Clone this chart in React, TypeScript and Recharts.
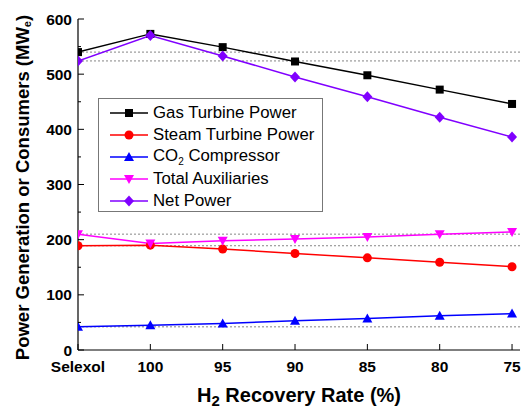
import React from 'react';
import { LineChart, Line, XAxis, YAxis, ReferenceLine } from 'recharts';

// values (MW_e)
const categories = ['Selexol', '100', '95', '90', '85', '80', '75'];
const gasTurbine = [540, 573, 549, 523, 498, 472, 446];
const steamTurbine = [189, 190, 183, 175, 167, 159, 151];
const co2Compressor = [42, 45, 48, 53, 57, 62, 66];
const totalAux = [210, 193, 198, 201, 205, 210, 214];
const netPower = [524, 570, 533, 495, 459, 422, 386];
const yTicks = [0, 50, 100, 150, 200, 250, 300, 350, 400, 450, 500, 550, 600];

const FONT = '"Liberation Sans", Arial, Helvetica, sans-serif';

const data = categories.map((c, i) => ({
  idx: i,
  name: c,
  gas: gasTurbine[i],
  steam: steamTurbine[i],
  co2: co2Compressor[i],
  aux: totalAux[i],
  net: netPower[i],
}));

type Shape = 'square' | 'circle' | 'up' | 'down' | 'diamond';

const Marker = ({ cx, cy, shape, color }: { cx: number; cy: number; shape: Shape; color: string }) => {
  switch (shape) {
    case 'square':
      return <rect x={cx - 4} y={cy - 4} width={8} height={8} fill={color} />;
    case 'circle':
      return <circle cx={cx} cy={cy} r={4.5} fill={color} />;
    case 'up':
      return <polygon points={`${cx},${cy - 5} ${cx + 5},${cy + 4} ${cx - 5},${cy + 4}`} fill={color} />;
    case 'down':
      return <polygon points={`${cx},${cy + 5} ${cx + 5},${cy - 4} ${cx - 5},${cy - 4}`} fill={color} />;
    default:
      return <polygon points={`${cx},${cy - 5.5} ${cx + 5},${cy} ${cx},${cy + 5.5} ${cx - 5},${cy}`} fill={color} />;
  }
};

const series: { key: string; name: string; color: string; shape: Shape }[] = [
  { key: 'gas', name: 'Gas Turbine Power', color: '#000000', shape: 'square' },
  { key: 'steam', name: 'Steam Turbine Power', color: '#ff0000', shape: 'circle' },
  { key: 'co2', name: 'CO2 Compressor', color: '#0000ff', shape: 'up' },
  { key: 'aux', name: 'Total Auxiliaries', color: '#ff00ff', shape: 'down' },
  { key: 'net', name: 'Net Power', color: '#8000ff', shape: 'diamond' },
];

const YTick = (props: any) => {
  const { x, y, payload } = props;
  const major = payload.value % 100 === 0;
  return (
    <g>
      <line x1={x} x2={x + (major ? 6 : 3)} y1={y} y2={y} stroke="#000" strokeWidth={1} />
      {major && (
        <text x={x - 6} y={y} textAnchor="end" dominantBaseline="central"
          fontFamily={FONT} fontWeight="bold" fontSize={15.5} fill="#000">
          {payload.value}
        </text>
      )}
    </g>
  );
};

const XTick = (props: any) => {
  const { x, y, payload } = props;
  return (
    <g>
      <line x1={x} x2={x} y1={y} y2={y - 6} stroke="#000" strokeWidth={1} />
      <text x={x} y={y + 16} textAnchor="middle" dominantBaseline="central"
        fontFamily={FONT} fontWeight="bold" fontSize={15.5} fill="#000">
        {categories[payload.value]}
      </text>
    </g>
  );
};

const LegendBox = () => (
  <div style={{
    position: 'absolute', left: 98, top: 98, width: 225, height: 114, boxSizing: 'border-box',
    border: '1px solid #777', background: '#fff', paddingTop: 3, fontFamily: FONT, fontSize: 16.8,
  }}>
    {series.map(s => (
      <div key={s.key} style={{ display: 'flex', alignItems: 'center', height: 22 }}>
        <svg width={54} height={22} style={{ flex: 'none' }}>
          <line x1={11} x2={49} y1={11} y2={11} stroke={s.color} strokeWidth={1.5} />
          <Marker cx={30} cy={11} shape={s.shape} color={s.color} />
        </svg>
        <span style={{ whiteSpace: 'nowrap' }}>
          {s.key === 'co2' ? <>CO<sub style={{ fontSize: 10 }}>2</sub> Compressor</> : s.name}
        </span>
      </div>
    ))}
  </div>
);

const YLabel = (props: any) => {
  const { viewBox } = props;
  const cx = viewBox.x + 22;
  const cy = viewBox.y + viewBox.height / 2 + 3;
  return (
    <text x={cx} y={cy} transform={`rotate(-90, ${cx}, ${cy})`} textAnchor="middle"
      dominantBaseline="central" fontFamily={FONT} fontWeight="bold" fontSize={18.5} fill="#000">
      Power Generation or Consumers (MW<tspan fontSize={11} dy={5}>e</tspan><tspan dy={-5}>)</tspan>
    </text>
  );
};

const XLabel = (props: any) => {
  const { viewBox } = props;
  const cx = viewBox.x + viewBox.width / 2;
  return (
    <text x={cx} y={viewBox.y + 52} textAnchor="middle" fontFamily={FONT}
      fontWeight="bold" fontSize={20} fill="#000">
      H<tspan fontSize={15} dy={4}>2</tspan><tspan dy={-4}> Recovery Rate (%)</tspan>
    </text>
  );
};

export default function App() {
  return (
    <div style={{ position: 'absolute', left: 0, top: 0, width: 523, height: 412, background: '#fff' }}>
      <LineChart width={523} height={412} data={data} margin={{ top: 19, right: 3, bottom: 0, left: 0 }}>
        <XAxis dataKey="idx" type="number" domain={[0, 6.11]} ticks={[0, 1, 2, 3, 4, 5, 6]}
          allowDataOverflow height={62} tickSize={0} tickMargin={0} tickLine={false}
          axisLine={{ stroke: '#000', strokeWidth: 1.2 }} tick={<XTick />} label={<XLabel />} />
        <XAxis xAxisId="top" orientation="top" dataKey="idx" type="number" domain={[0, 6.11]}
          height={0} tick={false} tickLine={false} axisLine={{ stroke: '#000', strokeWidth: 1.2 }} />
        <YAxis type="number" domain={[0, 600]} ticks={yTicks} interval={0} width={78}
          allowDataOverflow tickSize={0} tickMargin={0} tickLine={false}
          axisLine={{ stroke: '#000', strokeWidth: 1.2 }} tick={<YTick />} label={<YLabel />} />
        <YAxis yAxisId="right" orientation="right" type="number" domain={[0, 600]} width={0}
          tick={false} tickLine={false} axisLine={{ stroke: '#000', strokeWidth: 1.2 }} />
        {series.map(s => (
          <ReferenceLine key={'ref-' + s.key} y={(data[0] as any)[s.key]} stroke="#666"
            strokeWidth={0.8} strokeDasharray="2 2" />
        ))}
        {series.map(s => (
          <Line key={s.key} dataKey={s.key} name={s.name} stroke={s.color} strokeWidth={1.5}
            isAnimationActive={false}
            dot={(p: any) => <Marker key={s.key + p.index} cx={p.cx} cy={p.cy} shape={s.shape} color={s.color} />}
            activeDot={false} />
        ))}
      </LineChart>
      <LegendBox />
    </div>
  );
}
